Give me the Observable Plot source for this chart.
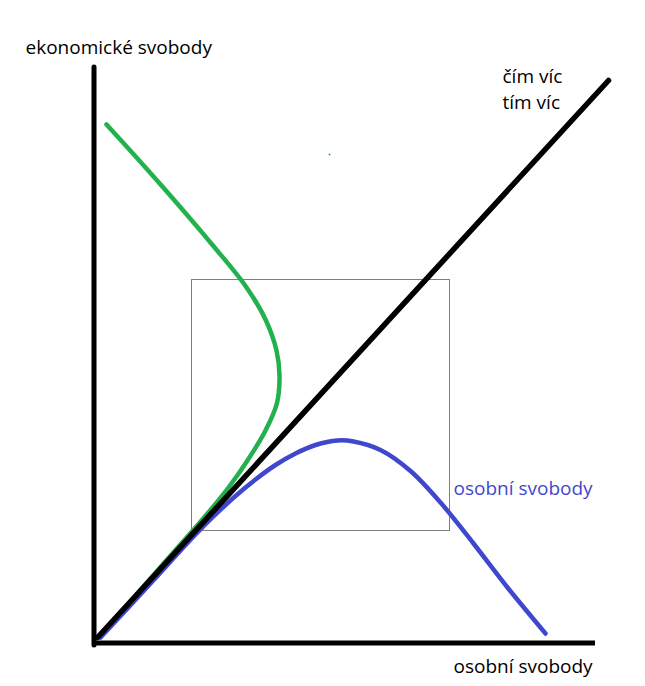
<!DOCTYPE html>
<html><head><meta charset="utf-8">
<script src="https://cdn.jsdelivr.net/npm/d3@7"></script>
<script src="https://cdn.jsdelivr.net/npm/@observablehq/plot@0.6"></script>
<style>html,body{margin:0;padding:0;background:#fff;} svg{display:block;}</style>
</head><body><div id="chart"></div>
<script>
// Curve "ekonomické svobody" (green), in chart units
const greenX = [2.2, 10, 16.6, 23.4, 30, 34, 36.2, 36.8, 36.3, 34, 30, 26.6, 23.4, 20, 11, 1.2];
const greenY = [103.2, 94.6, 87.1, 79.1, 70.9, 64.2, 58, 53, 47.5, 42, 35.4, 30.6, 26.6, 22.6, 12.4, 1];
// Curve "osobní svobody" (blue)
const blueX = [1, 11, 20, 24, 28, 32, 36, 40, 44, 48.4, 51.6, 57, 63, 69, 75.6, 82.4, 90];
const blueY = [0.6, 11.4, 21.2, 25.2, 28.9, 32.2, 35.1, 37.4, 39.1, 40, 39.8, 38.1, 33.9, 27.6, 19.4, 10.6, 1.4];
// "čím víc tím víc" line (black)
const diagX = [0.4, 102.6];
const diagY = [0.6, 112];
// Gray box
const boxX = [19.2, 70.8];
const boxY = [22, 72.2];
// Axes
const axisYx = -0.3, axisYrange = [-1, 114.6];
const axisXy = -0.5, axisXrange = [0.2, 100];
// Labels
const labelText = ["ekonomické svobody", "čím víc", "tím víc", "osobní svobody", "osobní svobody"];
const labelX = [-14, 81.4, 81.4, 71.6, 71.6];
const labelY = [118.5, 112.7, 107.5, -5.24, 30.3];
const labelColor = ["#000000", "#000000", "#000000", "#000000", "#3f48cc"];
// stray dot
const dotX = [46.8], dotY = [97.2];

const green = greenX.map((x, i) => ({x, y: greenY[i]}));
const blue = blueX.map((x, i) => ({x, y: blueY[i]}));
const diag = diagX.map((x, i) => ({x, y: diagY[i]}));
const labels = labelText.map((t, i) => ({t, x: labelX[i], y: labelY[i], c: labelColor[i]}));

const chart = Plot.plot({
  width: 645, height: 686,
  margin: 0,
  style: {background: "#fff", fontFamily: "'Open Sans', sans-serif"},
  x: {domain: [-19, 110], axis: null},
  y: {domain: [-9.2, 128], axis: null},
  marks: [
    Plot.rect([{x1: boxX[0], x2: boxX[1], y1: boxY[0], y2: boxY[1]}], {x1: "x1", x2: "x2", y1: "y1", y2: "y2", fill: "none", stroke: "#7f7f7f", strokeWidth: 1, shapeRendering: "crispEdges"}),
    Plot.ruleX([axisYx], {y1: axisYrange[0], y2: axisYrange[1], stroke: "#000", strokeWidth: 5, strokeLinecap: "round"}),
    Plot.ruleY([axisXy], {x1: axisXrange[0], x2: axisXrange[1], stroke: "#000", strokeWidth: 5}),
    Plot.line(green, {x: "x", y: "y", stroke: "#22b14c", strokeWidth: 4.5, curve: "catmull-rom"}),
    Plot.line(blue, {x: "x", y: "y", stroke: "#3f48cc", strokeWidth: 4.5, curve: "catmull-rom", strokeLinecap: "round"}),
    Plot.line(diag, {x: "x", y: "y", stroke: "#000", strokeWidth: 5.5, strokeLinecap: "round"}),
    Plot.dot(dotX.map((x, i) => ({x, y: dotY[i]})), {x: "x", y: "y", r: 1, fill: "#22b14c", stroke: "none"}),
    Plot.text(labels, {x: "x", y: "y", text: "t", fill: "c", textAnchor: "start", fontSize: 19, lineAnchor: "middle"})
  ]
});
document.getElementById("chart").appendChild(chart);
</script>
</body></html>
